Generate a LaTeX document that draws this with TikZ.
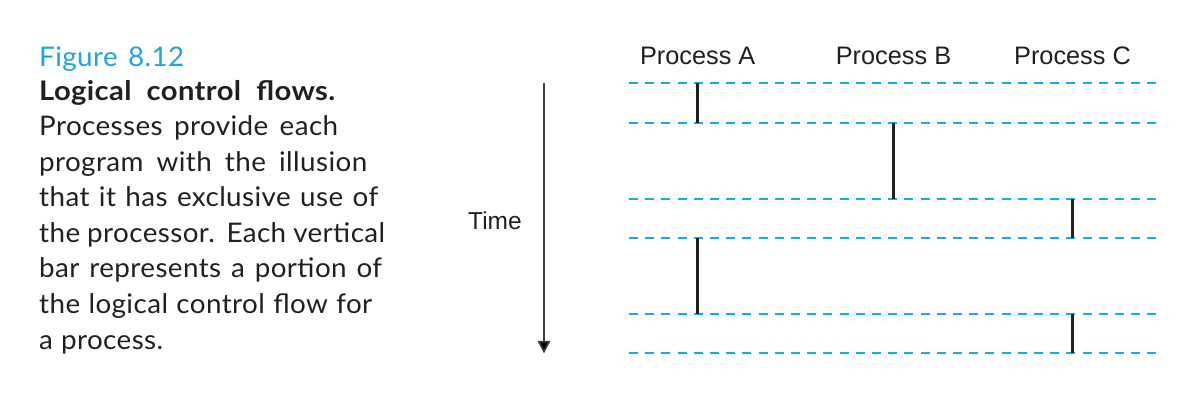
\documentclass[tikz,border=0pt]{standalone}
\usepackage{fontspec}
\setmainfont{Lato}[FakeStretch=1.03, LetterSpace=1.5]
\newfontfamily\capbold{Lato Bold}[FakeStretch=1.08, LetterSpace=1.5]
\newfontfamily\labelfont{Liberation Sans}
\usetikzlibrary{arrows.meta}
\definecolor{flowcyan}{RGB}{10,176,240}
\definecolor{figblue}{RGB}{30,164,224}
\definecolor{ink}{RGB}{35,31,32}
% a caption line set to a given width, the word spaces taking up the slack
\newcommand{\capfill}[2]{\hbox to #1pt{\spaceskip=0.22em plus 1fil minus 0.08em\relax #2}}
\begin{document}
\begin{tikzpicture}[x=1pt,y=-1pt,
  captext/.style={anchor=base west, inner sep=0pt, font=\fontsize{27}{32}\selectfont, text=ink},
  plabel/.style={anchor=base, inner sep=0pt, font=\labelfont\fontsize{25.3}{29}\selectfont, text=ink},
  slice/.style={draw=flowcyan, line width=2pt, dash pattern=on 9pt off 7.2pt},
  runbar/.style={draw=ink, line width=3.5pt},
  timeaxis/.style={draw=black!75, line width=1.6pt, -{Triangle[width=12.7pt,length=12.5pt,fill=black]}}]
\useasboundingbox (0,0) rectangle (1181,402);

% caption
\node[captext, text=figblue] (c1) at (39,66) {\capfill{145}{Figure 8.12}};
\node[captext, font=\capbold\fontsize{27}{32}\selectfont] (c2) at (39,100) {\capfill{296}{Logical control flows.}};
\node[captext] (c3) at (39,135.6) {\capfill{299}{Processes provide each}};
\node[captext] (c4) at (39,171.1) {\capfill{328}{program with the illusion}};
\node[captext] (c5) at (39,206.7) {\capfill{339}{that it has exclusive use of}};
\node[captext] (c6) at (39,242.3) {\capfill{346}{the processor. Each vertical}};
\node[captext] (c7) at (39,277.9) {\capfill{343}{bar represents a portion of}};
\node[captext] (c8) at (39,313.4) {\capfill{333}{the logical control flow for}};
\node[captext] (c9) at (39,349) {\capfill{124}{a process.}};

% process headings
\node[plabel] (pA) at (697.7,64.3) {Process A};
\node[plabel] (pB) at (893.5,64.3) {Process B};
\node[plabel] (pC) at (1072.5,64.3) {Process C};

% time axis
\node[plabel, font=\labelfont\fontsize{24.5}{28}\selectfont] (tlabel) at (495,229) {Time};
\coordinate (tstart) at (544,83);
\coordinate (tend) at (544,353.3);
\draw[timeaxis] (tstart) -- (tend);

% context-switch boundaries
\foreach \i/\y in {1/83.3,2/123,3/199,4/238.3,5/314,6/353.3}{
  \coordinate (w\i) at (629,\y);
  \coordinate (e\i) at (1159,\y);
  \coordinate (a\i) at (697.7,\y);
  \coordinate (b\i) at (893.5,\y);
  \coordinate (c\i) at (1072.3,\y);
  \draw[slice] (w\i) -- (e\i);
}

% running slices
\draw[runbar] (a1) -- (a2);
\draw[runbar] (b2) -- (b3);
\draw[runbar] (c3) -- (c4);
\draw[runbar] (a4) -- (a5);
\draw[runbar] (c5) -- (c6);
\end{tikzpicture}
\end{document}
